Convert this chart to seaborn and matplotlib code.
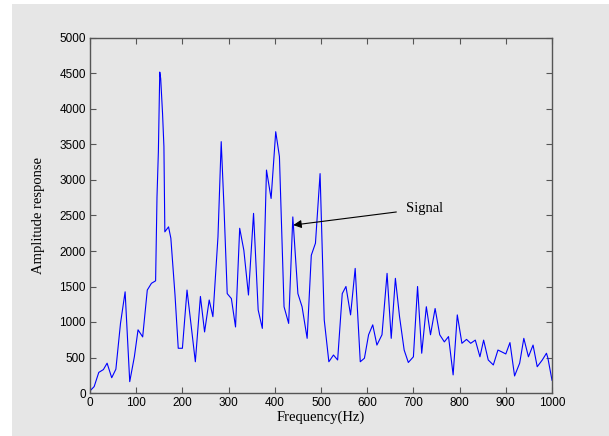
import matplotlib
matplotlib.use("Agg")
import matplotlib.pyplot as plt
from matplotlib.patches import Rectangle
import seaborn as sns
import pandas as pd

# values
freq = [0, 9, 19, 29, 37, 47, 56, 66, 76, 86, 96, 104, 114, 124, 133, 142,
        145, 148, 151, 153, 157, 160, 162, 170, 175, 184, 191, 200, 210, 220,
        228, 239, 248, 258, 266, 277, 284, 290, 297, 306, 315, 324, 333, 343,
        354, 364, 373, 382, 392, 402, 410, 420, 430, 439, 450, 459, 470, 479,
        488, 498, 507, 517, 527, 536, 546, 554, 564, 574, 585, 594, 603, 612,
        621, 632, 643, 652, 661, 670, 680, 689, 700, 709, 718, 728, 737, 747,
        757, 767, 776, 786, 795, 805, 815, 824, 834, 844, 852, 862, 873, 883,
        891, 900, 909, 919, 930, 939, 949, 959, 968, 979, 988, 991, 1000]
amplitude = [30, 90, 290, 330, 420, 215, 335, 980, 1425, 160, 510, 890, 790,
             1450, 1545, 1580, 2760, 3400, 4520, 4430, 3940, 3470, 2270, 2340,
             2180, 1380, 630, 630, 1450, 890, 440, 1360, 860, 1310, 1075, 2200,
             3540, 2620, 1400, 1330, 930, 2320, 2010, 1380, 2530, 1170, 910,
             3140, 2740, 3680, 3330, 1215, 980, 2480, 1400, 1215, 770, 1940,
             2110, 3090, 1030, 440, 535, 465, 1400, 1500, 1100, 1755, 440, 490,
             820, 960, 675, 820, 1685, 770, 1615, 1075, 605, 430, 510, 1500,
             560, 1215, 820, 1190, 820, 720, 795, 255, 1100, 700, 755, 700, 745,
             510, 745, 465, 395, 605, 580, 550, 710, 240, 420, 770, 510, 675,
             370, 465, 560, 495, 180]

x_ticks = list(range(0, 1001, 100))
y_ticks = list(range(0, 5001, 500))

df = pd.DataFrame({"freq": freq, "amp": amplitude})

bg = "#e6e6e6"
fig = plt.figure(figsize=(6.09, 4.36), dpi=100, facecolor="white")
fig.patches.append(Rectangle((12 / 609, 0), 1, (436 - 4) / 436,
                             transform=fig.transFigure, facecolor=bg,
                             edgecolor="none", zorder=-10))
ax = fig.add_axes([90 / 609, 43 / 436, 462 / 609, 355 / 436])
ax.set_facecolor(bg)

sns.lineplot(data=df, x="freq", y="amp", ax=ax, color="#0000ff",
             linewidth=0.8, estimator=None, sort=False)

ax.set_xlim(0, 1000)
ax.set_ylim(0, 5000)
ax.set_xticks(x_ticks)
ax.set_yticks(y_ticks)
ax.tick_params(direction="in", top=True, right=True, length=4, width=0.8,
               color="#555555", labelsize=8.5, pad=3)
for lab in ax.get_xticklabels() + ax.get_yticklabels():
    lab.set_family("Liberation Sans")
for sp in ax.spines.values():
    sp.set_color("#555555")
    sp.set_linewidth(1.0)

ax.set_xlabel("Frequency(Hz)", family="Liberation Serif", fontsize=10.5, labelpad=1)
ax.set_ylabel("Amplitude response", family="Liberation Serif", fontsize=10.5, labelpad=10)

ax.annotate("Signal", xy=(440, 2365), xytext=(684, 2600),
            fontsize=10.5, family="Liberation Serif", va="center", ha="left",
            arrowprops=dict(arrowstyle="-|>", color="black", lw=0.8,
                            mutation_scale=12, shrinkA=5, shrinkB=0))

fig.savefig("out.png", dpi=100, facecolor=fig.get_facecolor())
